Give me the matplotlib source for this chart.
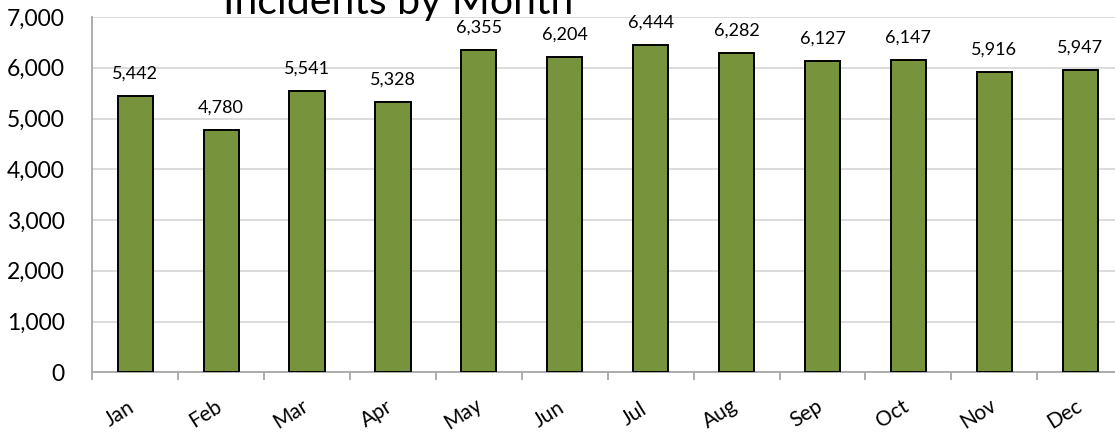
import matplotlib
matplotlib.use("Agg")
import matplotlib.pyplot as plt
from matplotlib.ticker import FuncFormatter, FixedLocator

months = ["Jan", "Feb", "Mar", "Apr", "May", "Jun", "Jul", "Aug", "Sep", "Oct", "Nov", "Dec"]
incidents = [5442, 4780, 5541, 5328, 6355, 6204, 6444, 6282, 6127, 6147, 5916, 5947]
title = "Incidents by Month"

plt.rcParams['font.family'] = ['Lato', 'DejaVu Sans']

W, H = 1115, 434
fig = plt.figure(figsize=(W / 100, H / 100), dpi=100)
left_px, right_px, bottom_px, top_px = 92.3, 92.3 + 12 * 85.9, 372.3, 17
ax = fig.add_axes([left_px / W, (H - bottom_px) / H, (right_px - left_px) / W, (bottom_px - top_px) / H])

x = list(range(len(months)))
ax.bar(x, incidents, width=0.41, color="#77933C", edgecolor="black", linewidth=1.4, zorder=3)
for xi, v in zip(x, incidents):
    ax.annotate(f"{v:,}", xy=(xi, v), xytext=(0, 12.5), textcoords="offset points",
                ha="center", va="baseline", fontsize=13, color="black")

ax.set_xlim(-0.5, len(months) - 0.5)
ax.set_ylim(0, 7000)
ax.set_yticks(range(0, 7001, 1000))
ax.yaxis.set_major_formatter(FuncFormatter(lambda v, p: f"{int(v):,}"))
ax.tick_params(axis="y", length=0, labelsize=16.5, pad=20)
ax.grid(axis="y", color="#d9d9d9", linewidth=1.3, zorder=0)

ax.set_xticks(x)
ax.set_xticklabels([])
ax.tick_params(axis="x", length=0)
ax.xaxis.set_minor_locator(FixedLocator([i - 0.5 for i in range(len(months) + 1)]))
ax.tick_params(axis="x", which="minor", length=6, color="#a6a6a6", width=1.3)
for xi, m in zip(x, months):
    ax.annotate(m, xy=(xi, 0), xycoords=("data", "axes fraction"), xytext=(-11.5, -30),
                textcoords="offset points", ha="center", va="center", rotation=32,
                rotation_mode="anchor", fontsize=15)

for s in ["top", "right"]:
    ax.spines[s].set_visible(False)
for s in ["left", "bottom"]:
    ax.spines[s].set_color("#a6a6a6")
    ax.spines[s].set_linewidth(1.3)

fig.text(398 / W, 1 - 14 / H, title, ha="center", va="baseline", fontsize=29.5)

fig.savefig("out.png", dpi=100)
